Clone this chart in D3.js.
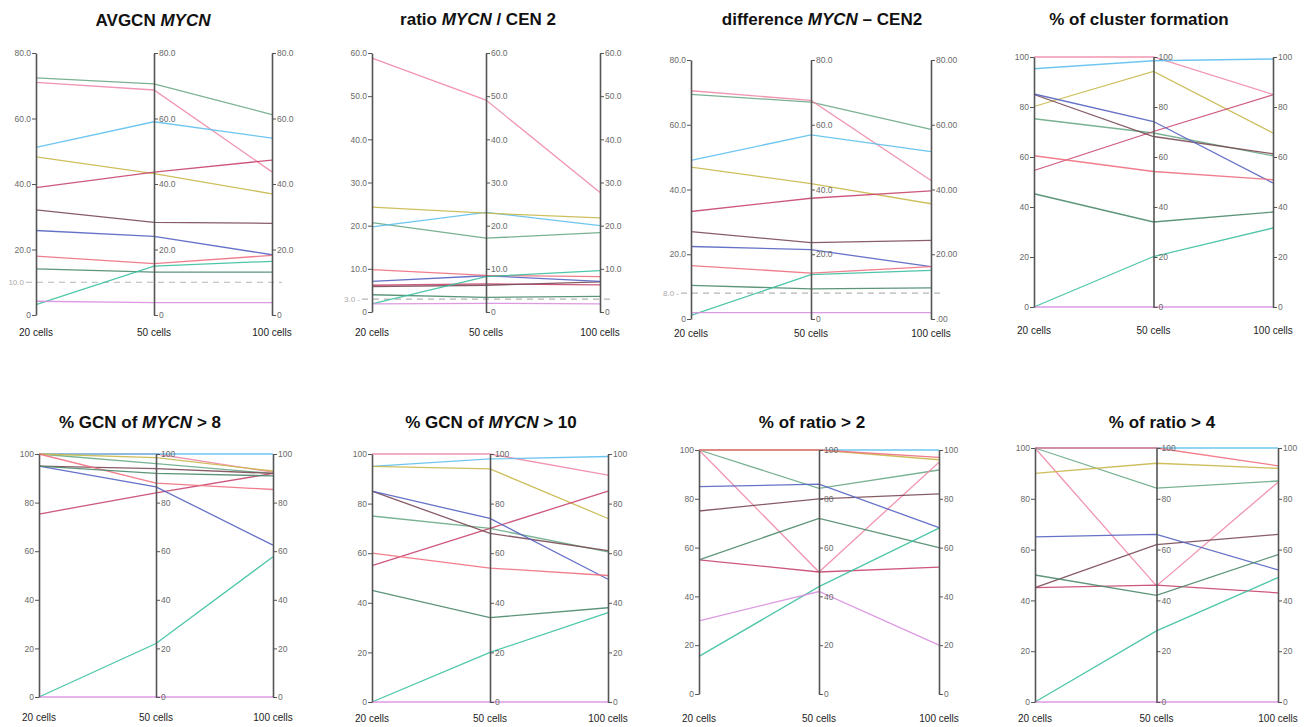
<!DOCTYPE html>
<html>
<head>
<meta charset="utf-8">
<script src="https://cdn.jsdelivr.net/npm/d3@7"></script>
<style>
  body { margin: 0; background: #fff; }
  svg { display: block; font-family: "Liberation Sans", Arial, sans-serif; }
</style>
</head>
<body>
<script>
// categories on each axis
const cellLabels = ["20 cells", "50 cells", "100 cells"];

// one line per sample, same order in every panel
const seriesColors = ["#6aaa86", "#ef8aa8", "#5ec0ee", "#c9b84c", "#c8466e", "#7a4a55",
                      "#5563c2", "#f07080", "#4b8a6c", "#3cc0a0", "#d98ee0"];

const avgcn = [[72.4,70.6,61.2],[71,68.7,43.7],[51.2,59,54],[48.3,43.2,37],[38.9,43.6,47.3],[32.1,28.3,28],
               [25.8,24,18.4],[18,15.7,18.2],[14.1,13.1,13.1],[3.2,14.9,16.4],[4.2,3.8,3.8]];
const ratio = [[20.7,17.1,18.4],[58.8,49.1,27.7],[19.7,23.1,20],[24.3,22.9,21.8],[6.2,6.5,6.3],[5.9,6.2,7.0],
               [7.1,8.4,7.1],[9.8,8.5,8.2],[4.0,3.4,3.6],[1.9,8.2,9.6],[1.9,2.0,1.9]];
const diff = [[69.4,67,58.6],[70.5,67.5,42.8],[49,56.9,51.7],[46.9,41.8,35.6],[33.2,37.3,39.6],[27,23.6,24.3],
              [22.4,21.4,16.2],[16.5,14.2,16.2],[10.4,9.3,9.6],[1.1,13.7,15],[2,2,2]];
const cluster = [[75.3,69.6,60.5],[100,100,85],[95.3,98.5,99.2],[80.2,94.2,69.6],[54.6,70.2,84.9],[85,68.2,61.3],
                 [85.2,74.2,49.6],[60.5,54.2,50.9],[45.3,34,38],[0,20.2,31.6],[0,0,0]];
const gcn8 = [[100,96,92],[100,100,92.5],[100,100,100],[100,98.5,93],[75.3,84,92],[95,94,92],
              [95,86.5,62.5],[100,88,85.4],[95,92,91],[0,22,57.7],[0,0,0]];
const gcn10 = [[75,70,60.5],[100,100,91.5],[95,98,99],[95,94,74],[55,70,85],[85,68,61],
               [85,74,49.5],[60,54,51],[45,34,38],[0,20,36],[0,0,0]];
const ratio2 = [[100,84.3,91.8],[100,50,95],[100,100,100],[100,100,96],[55,50,52],[75,80,82],
                [85,86,68.2],[100,100,97],[55,72,60],[15.4,44,68],[30,42,20]];
const ratio4 = [[100,84.2,87],[100,45.7,86.5],[100,100,100],[90,94,92],[45,46,43],[45,62,66],
                [65,66,52],[100,100,93],[50,42,58],[0,28,49],[0,0,0]];

const panelData = [avgcn, ratio, diff, cluster, gcn8, gcn10, ratio2, ratio4];
const panelMax = [80, 60, 80, 100, 100, 100, 100, 100];
const panelTicks = [[0,20,40,60,80],[0,10,20,30,40,50,60],[0,20,40,60,80],
                    [0,20,40,60,80,100],[0,20,40,60,80,100],[0,20,40,60,80,100],[0,20,40,60,80,100],[0,20,40,60,80,100]];
// reference (cut-off) lines
const refValues = [10, 3, 8, null, null, null, null, null];
const refLabels = ["10.0", "3.0 -", "8.0 -", null, null, null, null, null];

// title pieces: [text, italic?]
const panelTitles = [
  [["AVGCN ", false], ["MYCN", true]],
  [["ratio ", false], ["MYCN", true], [" / CEN 2", false]],
  [["difference ", false], ["MYCN", true], [" \u2013 CEN2", false]],
  [["% of cluster formation", false]],
  [["% GCN of ", false], ["MYCN", true], [" > 8", false]],
  [["% GCN of ", false], ["MYCN", true], [" > 10", false]],
  [["% of ratio > 2", false]],
  [["% of ratio > 4", false]]
];

// placement of each panel on the page
const layout = [
  {x0: 36,   x2: 272,  top: 53,  bottom: 315, titleX: 153,  titleY: 26,  labelY: 336},
  {x0: 372,  x2: 600,  top: 53,  bottom: 312, titleX: 478,  titleY: 25,  labelY: 336},
  {x0: 691,  x2: 931,  top: 60,  bottom: 319, titleX: 822,  titleY: 25,  labelY: 337},
  {x0: 1034, x2: 1273, top: 57,  bottom: 307, titleX: 1139, titleY: 25,  labelY: 334},
  {x0: 39,   x2: 273,  top: 454, bottom: 697, titleX: 140,  titleY: 428, labelY: 721},
  {x0: 372,  x2: 608,  top: 454, bottom: 702, titleX: 491,  titleY: 428, labelY: 722},
  {x0: 699,  x2: 939,  top: 450, bottom: 694, titleX: 812,  titleY: 428, labelY: 722},
  {x0: 1035, x2: 1278, top: 448, bottom: 702, titleX: 1162, titleY: 428, labelY: 722}
];

const fmt1 = d => d === 0 ? "0" : d3.format(".1f")(d);
const fmtRight3 = d => d === 0 ? ".00" : d3.format(".2f")(d);
const fmtInt = d3.format("d");

const svg = d3.select("body").append("svg")
  .attr("width", 1311)
  .attr("height", 727);

panelData.forEach((rows, p) => {
  const L = layout[p];
  const g = svg.append("g");

  const x = d3.scalePoint().domain(cellLabels).range([L.x0, L.x2]);
  const y = d3.scaleLinear().domain([0, panelMax[p]]).range([L.bottom, L.top]);

  // title
  const t = g.append("text")
    .attr("x", L.titleX)
    .attr("y", L.titleY)
    .attr("text-anchor", "middle")
    .style("font-size", "17px")
    .style("font-weight", "bold")
    .style("fill", "#111");
  panelTitles[p].forEach(([s, it]) => {
    t.append("tspan").text(s).style("font-style", it ? "italic" : "normal");
  });

  // dashed cut-off line
  if (refValues[p] !== null) {
    const ry = y(refValues[p]);
    g.append("line")
      .attr("x1", L.x0 - 10).attr("x2", L.x2 + 10)
      .attr("y1", ry).attr("y2", ry)
      .style("stroke", "#b5b5b5")
      .style("stroke-width", 1.2)
      .style("stroke-dasharray", "6,5");
    g.append("text")
      .attr("x", L.x0 - 12)
      .attr("y", ry + 3)
      .attr("text-anchor", "end")
      .style("font-size", "8px")
      .style("fill", "#aaa")
      .text(refLabels[p]);
  }

  // the sample lines
  const line = d3.line()
    .x((d, i) => x(cellLabels[i]))
    .y(d => y(d));
  g.append("g").selectAll("path")
    .data(rows)
    .enter()
    .append("path")
    .attr("d", d => line(d))
    .style("fill", "none")
    .style("stroke", (d, i) => seriesColors[i])
    .style("stroke-width", 1.3)
    .style("stroke-opacity", 0.9);

  // axes
  cellLabels.forEach((c, i) => {
    let fmt = p < 3 ? fmt1 : fmtInt;
    if (p === 2 && i === 2) fmt = fmtRight3;
    const ax = (i === 0 ? d3.axisLeft(y) : d3.axisRight(y))
      .tickValues(panelTicks[p])
      .tickFormat(fmt)
      .tickSize(4)
      .tickSizeOuter(0);
    const a = g.append("g")
      .attr("transform", "translate(" + x(c) + ",0)")
      .call(ax);
    a.select(".domain").style("stroke", "#555").style("stroke-width", 1.6);
    a.selectAll(".tick line").style("stroke", "#555").style("stroke-width", 1);
    a.selectAll(".tick text")
      .style("font-size", "8.5px")
      .style("fill", "#6a6a6a")
      .style("font-family", "'Liberation Sans', Arial, sans-serif")
      .attr("x", i === 0 ? -5 : 5);

    g.append("text")
      .attr("x", x(c))
      .attr("y", L.labelY)
      .attr("text-anchor", "middle")
      .style("font-size", "10px")
      .style("fill", "#222")
      .text(c);
  });
});
</script>
</body>
</html>
